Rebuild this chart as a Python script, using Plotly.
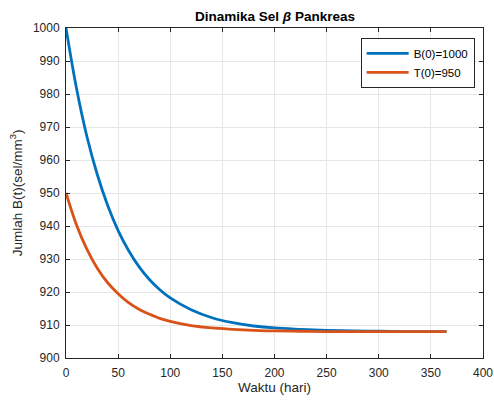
import plotly.graph_objects as go

days = [0, 10, 20, 30, 40, 50, 60, 70, 80, 90, 100, 120, 140, 160, 180, 200,
        225, 250, 275, 300, 325, 350, 365]
B_vals = [1000, 981.8, 967.2, 955.6, 946.2, 938.6, 932.6, 927.7, 923.8, 920.7,
          918.2, 914.6, 912.2, 910.7, 909.7, 909.1, 908.7, 908.4, 908.2, 908.1,
          908.0, 908.0, 908.0]
T_vals = [950, 940.4, 933.0, 927.2, 922.8, 919.5, 916.8, 914.8, 913.3, 912.0,
          911.1, 909.8, 909.1, 908.7, 908.4, 908.2, 908.1, 908.0, 908.0, 908.0,
          908.0, 908.0, 908.0]
series_names = ["B(0)=1000", "T(0)=950"]
x_ticks = [0, 50, 100, 150, 200, 250, 300, 350, 400]
y_ticks = [900, 910, 920, 930, 940, 950, 960, 970, 980, 990, 1000]
title_text = "<b>Dinamika Sel <i>β</i> Pankreas</b>"

FONT = "Liberation Sans, Arial, Helvetica, sans-serif"
AX = "#262626"

fig = go.Figure()
fig.add_trace(go.Scatter(x=days, y=B_vals, mode="lines", name=series_names[0],
                         line=dict(color="#0072BD", width=2.8, shape="spline")))
fig.add_trace(go.Scatter(x=days, y=T_vals, mode="lines", name=series_names[1],
                         line=dict(color="#D95319", width=2.8, shape="spline")))

axis_common = dict(showline=True, linecolor=AX, linewidth=1, mirror="ticks",
                   ticks="inside", ticklen=4, tickcolor=AX, showgrid=True,
                   gridcolor="#e6e6e6", gridwidth=1, zeroline=False,
                   automargin=False,
                   tickfont=dict(family=FONT, size=12, color=AX))

fig.update_xaxes(range=[0, 400], tickvals=x_ticks, ticklabelstandoff=4,
                 title=dict(text="Waktu (hari)", font=dict(family=FONT, size=13.5, color=AX), standoff=2),
                 **axis_common)
fig.update_yaxes(range=[900, 1000], tickvals=y_ticks, ticklabelstandoff=3,
                 title=dict(text="Jumlah B(t)(sel/mm<sup>3</sup>)", font=dict(family=FONT, size=13.5, color=AX), standoff=7),
                 **axis_common)

fig.add_annotation(text=title_text, xref="paper", yref="paper", x=0.5, y=1,
                   xanchor="center", yanchor="bottom", yshift=2, showarrow=False,
                   font=dict(family=FONT, size=13.5, color="black"))

fig.update_layout(
    template="none",
    width=494, height=400,
    margin=dict(l=66, r=11, t=28, b=42),
    paper_bgcolor="white", plot_bgcolor="white",
    legend=dict(x=0.98, y=0.97, xanchor="right", yanchor="top",
                bgcolor="white", bordercolor=AX, borderwidth=1,
                font=dict(family=FONT, size=11.5, color="black"),
                itemwidth=42, tracegroupgap=0),
    showlegend=True,
)

fig.write_html("out.html")
